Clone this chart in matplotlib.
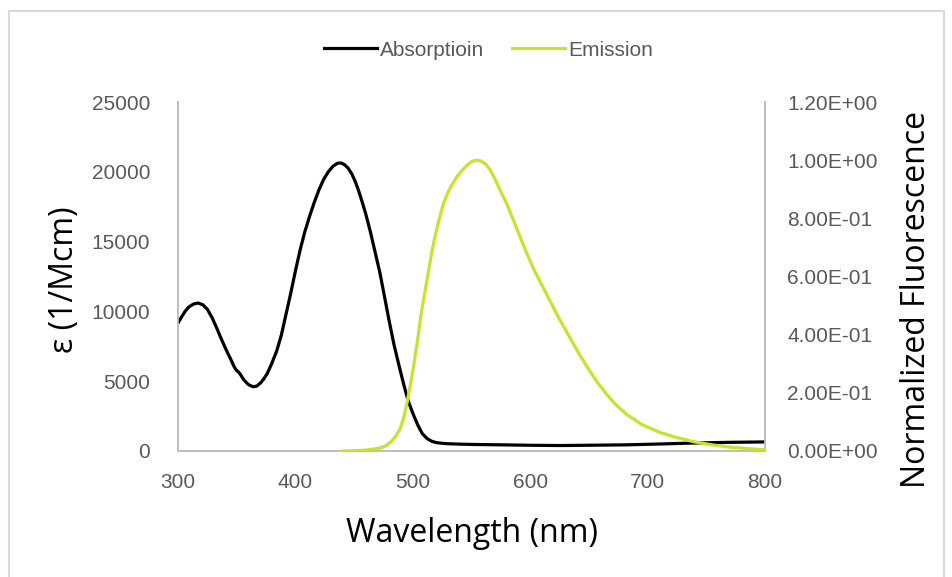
import numpy as np
import matplotlib
matplotlib.use("Agg")
import matplotlib.pyplot as plt
from matplotlib.lines import Line2D
from matplotlib.patches import Rectangle

# absorption spectrum (molar extinction, 1/Mcm)
abs_nm = [300, 303, 306, 309, 313, 317, 321, 325, 329, 333, 337, 341, 345, 348, 350,
          351, 353, 356, 360, 364, 367, 370, 373, 376, 380, 384, 388, 392, 396, 400,
          404, 408, 412, 416, 420, 424, 428, 432, 436, 439, 442, 445, 448, 451, 454,
          457, 460, 464, 468, 472, 476, 480, 484, 488, 492, 496, 500, 504, 508, 512,
          516, 520, 525, 530, 540, 550, 575, 600, 625, 650, 682, 710, 739, 770, 800]
abs_eps = [9170, 9600, 10000, 10300, 10520, 10600, 10480, 10150, 9550, 8800, 8000,
           7250, 6550, 6000, 5750, 5700, 5500, 5100, 4750, 4600, 4650, 4850, 5150,
           5550, 6300, 7150, 8300, 9800, 11300, 12900, 14400, 15700, 16800, 17800,
           18700, 19450, 20000, 20400, 20620, 20630, 20500, 20250, 19850, 19300,
           18600, 17800, 16950, 15650, 14200, 12750, 11000, 9250, 7600, 6200, 4850,
           3600, 2700, 1900, 1250, 900, 700, 600, 550, 520, 490, 470, 440, 410, 390,
           410, 440, 500, 570, 620, 650]

# normalized emission
em_nm = [440, 450, 460, 466, 472, 477, 481, 485, 489, 492, 495, 498, 501, 504, 507,
         510, 513, 516, 519, 522, 526, 530, 534, 538, 542, 546, 550, 554, 558, 562,
         566, 570, 574, 580, 585, 589, 595, 602, 610, 617, 624, 631, 640, 648, 656,
         664, 672, 682, 695, 711, 725, 739, 755, 768, 785, 800]
em_int = [0.0, 0.001, 0.003, 0.006, 0.01, 0.018, 0.03, 0.048, 0.075, 0.11, 0.165,
          0.23, 0.30, 0.38, 0.47, 0.54, 0.61, 0.68, 0.74, 0.79, 0.85, 0.89, 0.92,
          0.945, 0.965, 0.982, 0.995, 1.0, 0.997, 0.987, 0.966, 0.935, 0.90, 0.85,
          0.80, 0.76, 0.70, 0.633, 0.57, 0.515, 0.46, 0.41, 0.345, 0.292, 0.243,
          0.200, 0.163, 0.126, 0.091, 0.063, 0.046, 0.032, 0.021, 0.014, 0.008, 0.004]

x_ticks = [300, 400, 500, 600, 700, 800]
left_ticks = [0, 5000, 10000, 15000, 20000, 25000]
right_ticks = [0.0, 0.2, 0.4, 0.6, 0.8, 1.0, 1.2]
right_labels = ["0.00E+00", "2.00E-01", "4.00E-01", "6.00E-01", "8.00E-01",
                "1.00E+00", "1.20E+00"]

black = "black"
green = "#c9e12f"
grey_txt = "#595959"
grey_axis = "#bfbfbf"
tick_font = "Liberation Sans"
label_font = "Open Sans"

fig = plt.figure(figsize=(9.52, 5.77), dpi=100)
fig.patches.append(Rectangle((0.009, -0.01), 0.983, 0.991, transform=fig.transFigure,
                             fill=False, edgecolor="#d9d9d9", linewidth=1.5))

ax = fig.add_axes([0.187, 0.2184, 0.6166, 0.6048])
ax2 = ax.twinx()

ax.plot(abs_nm, abs_eps, color=black, linewidth=2.3, zorder=3,
        solid_joinstyle="round", solid_capstyle="round")
ax2.plot(em_nm, em_int, color=green, linewidth=2.3, zorder=3,
         solid_joinstyle="round", solid_capstyle="round")

ax.set_xlim(300, 800)
ax.set_ylim(0, 25000)
ax2.set_ylim(0, 1.2)
ax.set_xticks(x_ticks)
ax.set_yticks(left_ticks)
ax2.set_yticks(right_ticks)
ax2.set_yticklabels(right_labels)

for a in (ax, ax2):
    a.spines["top"].set_visible(False)
    for s in ("left", "right", "bottom"):
        a.spines[s].set_color(grey_axis)
        a.spines[s].set_linewidth(1.3)
    a.tick_params(length=0, labelsize=15, labelcolor=grey_txt)
    for lab in a.get_xticklabels() + a.get_yticklabels():
        lab.set_fontfamily(tick_font)
ax.tick_params(axis="y", pad=20)
ax.tick_params(axis="x", pad=16)
ax2.tick_params(axis="y", pad=16)

ax.set_xlabel("Wavelength (nm)", fontsize=23, fontfamily=label_font)
ax.set_ylabel("ε (1/Mcm)", fontsize=23, fontfamily=label_font)
ax2.set_ylabel("Normalized Fluorescence", fontsize=23, fontfamily=label_font)
ax.xaxis.set_label_coords(0.5, -0.19)
ax.yaxis.set_label_coords(-0.165, 0.49)
ax2.yaxis.set_label_coords(1.23, 0.435)

handles = [Line2D([], [], color=black, linewidth=2.3),
           Line2D([], [], color=green, linewidth=2.3)]
leg = fig.legend(handles, ["Absorptioin", "Emission"], loc="center",
                 bbox_to_anchor=(0.513, 0.913), ncol=2, frameon=False,
                 handlelength=2.55, handletextpad=0.15, columnspacing=1.3,
                 prop={"family": tick_font, "size": 15})
for t in leg.get_texts():
    t.set_color(grey_txt)

fig.savefig("out.png", dpi=100)
